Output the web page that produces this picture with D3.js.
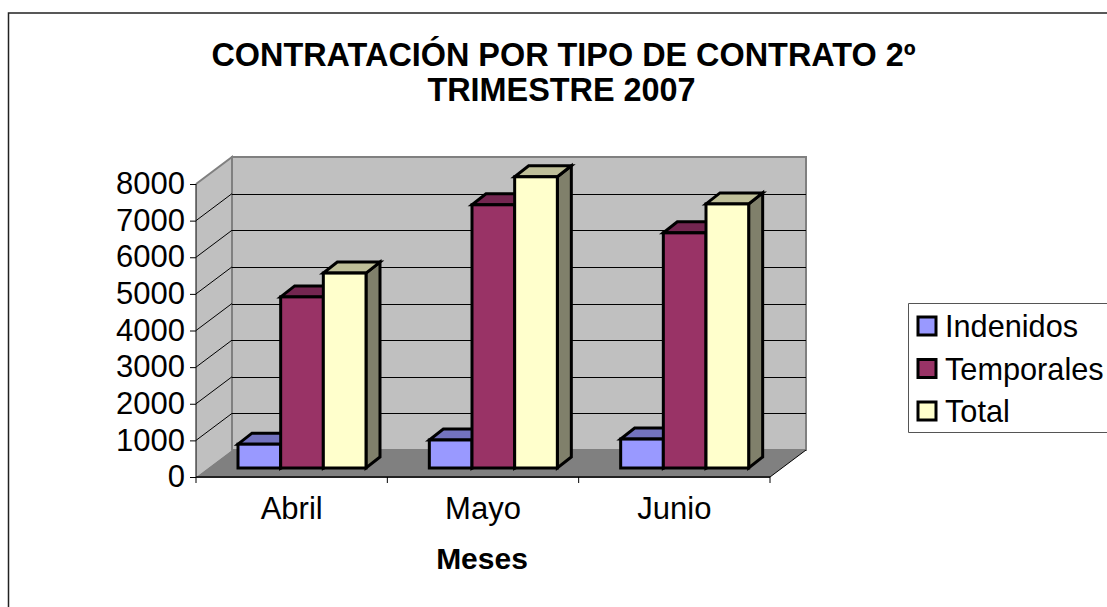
<!DOCTYPE html>
<html>
<head>
<meta charset="utf-8">
<script src="https://cdn.jsdelivr.net/npm/d3@7"></script>
<style>
html,body{margin:0;padding:0;background:#fff;}
svg{display:block;}
text{font-family:"Liberation Sans",Arial,sans-serif;fill:#000;}
</style>
</head>
<body>
<div id="chart"></div>
<script>
var months = ["Abril","Mayo","Junio"];
var seriesNames = ["Indenidos","Temporales","Total"];
var indefinidos = [650,765,790];
var temporales = [4672,7186,6420];
var total = [5322,7951,7210];
var yTicks = [0,1000,2000,3000,4000,5000,6000,7000,8000];
var fills = ["#9999ff","#993366","#ffffcc"];
var tops = ["#7373bf","#732650","#bfbf99"];
var sides = ["#5c5c99","#5c1f3d","#80806b"];

var W = 1107, H = 607,
    m = {t:184,r:337,b:130,l:196},
    chartW = W - m.l - m.r,
    chartH = H - m.t - m.b,
    depth = {x:36,y:27},
    barOff = {x:0,y:9},
    barDepth = {x:14,y:11};

var svg = d3.select("#chart").append("svg").attr("width",W).attr("height",H);

// outer frame, open to the right and at the bottom
svg.append("path")
    .attr("d","M8.5,"+H+"V13H"+W)
    .attr("fill","none").attr("stroke","#222").attr("stroke-width",1.5);

var scaleX = d3.scaleBand().domain(months).range([0,chartW]).paddingInner(0).paddingOuter(0);
var scaleY = d3.scaleLinear().domain([0,8000]).range([chartH,0]);
var scaleS = d3.scaleBand().domain(seriesNames).range([42,170]);

var g = svg.append("g").attr("transform","translate("+m.l+","+m.t+")");

// walls and floor
g.append("path").attr("fill","#c0c0c0").attr("stroke","#808080").attr("stroke-width",2)
    .attr("d","M"+depth.x+","+(scaleY(0)-depth.y)+"V"+(scaleY(8000)-depth.y)+"H"+(chartW+depth.x)+"V"+(scaleY(0)-depth.y)+"Z");
g.append("path").attr("fill","#c0c0c0")
    .attr("d","M0,"+scaleY(0)+"V"+scaleY(8000)+"L"+depth.x+","+(scaleY(8000)-depth.y)+"V"+(scaleY(0)-depth.y)+"Z");
g.append("path").attr("fill","none").attr("stroke","#808080").attr("stroke-width",2)
    .attr("d","M0,"+scaleY(8000)+"L"+depth.x+","+(scaleY(8000)-depth.y)+"V"+(scaleY(0)-depth.y));
g.append("path").attr("fill","#808080")
    .attr("d","M0,"+scaleY(0)+"L"+depth.x+","+(scaleY(0)-depth.y)+"H"+(chartW+depth.x)+"L"+chartW+","+scaleY(0)+"Z");

// gridlines, back wall then side wall
var grid = yTicks.filter(function(d){return d>0 && d<8000;});
g.selectAll(".grid-back").data(grid).enter().append("line")
    .attr("class","grid-back")
    .attr("x1",depth.x).attr("x2",chartW+depth.x)
    .attr("y1",function(d){return Math.round(scaleY(d)-depth.y)+0.5;})
    .attr("y2",function(d){return Math.round(scaleY(d)-depth.y)+0.5;})
    .attr("stroke","#000");
g.selectAll(".grid-side").data(yTicks.filter(function(d){return d<8000;})).enter().append("line")
    .attr("class","grid-side")
    .attr("x1",0).attr("x2",depth.x)
    .attr("y1",function(d){return scaleY(d);})
    .attr("y2",function(d){return scaleY(d)-depth.y;})
    .attr("stroke",function(d){return d==0?"none":"#000";});
g.append("line").attr("x1",chartW).attr("x2",chartW+depth.x)
    .attr("y1",scaleY(0)).attr("y2",scaleY(0)-depth.y).attr("stroke","#000");

// bars
var rows = [];
months.forEach(function(mes,i){
    [indefinidos,temporales,total].forEach(function(vals,s){
        rows.push({mes:mes,s:s,name:seriesNames[s],v:vals[i]});
    });
});
var bars = g.selectAll(".bar").data(rows).enter().append("g").attr("class","bar")
    .attr("stroke","#000").attr("stroke-width",3).attr("stroke-linejoin","miter");
function x0(d){return scaleX(d.mes)+scaleS(d.name)+barOff.x;}
function x1(d){return x0(d)+scaleS.bandwidth();}
function y0(d){return scaleY(0)-barOff.y;}
function y1(d){return scaleY(d.v)-barOff.y;}
bars.append("path").attr("fill",function(d){return sides[d.s];})
    .attr("d",function(d){return "M"+x1(d)+","+y0(d)+"V"+y1(d)+"l"+barDepth.x+","+(-barDepth.y)+"V"+(y0(d)-barDepth.y)+"Z";});
bars.append("path").attr("fill",function(d){return tops[d.s];})
    .attr("d",function(d){return "M"+x0(d)+","+y1(d)+"H"+x1(d)+"l"+barDepth.x+","+(-barDepth.y)+"H"+(x0(d)+barDepth.x)+"Z";});
bars.append("rect").attr("fill",function(d){return fills[d.s];})
    .attr("x",x0).attr("y",y1)
    .attr("width",scaleS.bandwidth())
    .attr("height",function(d){return y0(d)-y1(d);});

// axes
var axisY = d3.axisLeft(scaleY).tickValues(yTicks).tickSize(6).tickPadding(5).tickFormat(d3.format("d"));
var yAxis = g.append("g").attr("class","axis").call(axisY);
yAxis.selectAll("text").style("font-size","31px").attr("dy","0.31em");
yAxis.select(".domain").attr("d","M0,0V"+chartH).attr("stroke","#000");

var axisX = d3.axisBottom(scaleX).tickSize(0).tickPadding(20);
var xAxis = g.append("g").attr("class","axis").attr("transform","translate(0,"+chartH+")").call(axisX);
xAxis.selectAll("text").style("font-size","31px").attr("dy","0.71em");
xAxis.select(".domain").attr("stroke","#222").attr("stroke-width",2).attr("d","M0,0H"+chartW);
xAxis.selectAll(".bound").data(d3.range(months.length+1)).enter().append("line")
    .attr("class","bound")
    .attr("x1",function(d){return d*scaleX.bandwidth();})
    .attr("x2",function(d){return d*scaleX.bandwidth();})
    .attr("y1",0).attr("y2",6).attr("stroke","#000");

// titles
var title = svg.append("text").attr("text-anchor","middle")
    .style("font-size","32.4px").style("font-weight","bold");
title.append("tspan").attr("x",563.5).attr("y",66).text("CONTRATACIÓN POR TIPO DE CONTRATO 2º");
title.append("tspan").attr("x",561.5).attr("y",101).text("TRIMESTRE 2007");
svg.append("text").attr("x",482).attr("y",569).attr("text-anchor","middle")
    .style("font-size","30px").style("font-weight","bold").text("Meses");

// legend, runs off the right edge
var legend = svg.append("g");
legend.append("path").attr("d","M"+W+",303.5H908.5V432.5H"+W)
    .attr("fill","#fff").attr("stroke","#555");
var scaleL = d3.scalePoint().domain(seriesNames).range([326,411]);
var item = legend.selectAll(".item").data(seriesNames).enter().append("g").attr("class","item")
    .attr("transform",function(d){return "translate(0,"+scaleL(d)+")";});
item.append("rect").attr("x",918).attr("y",-9).attr("width",18).attr("height",18)
    .attr("fill",function(d,i){return fills[i];}).attr("stroke","#000").attr("stroke-width",3);
item.append("text").attr("x",945).attr("y",11).style("font-size","30.7px").text(function(d){return d;});
</script>
</body>
</html>
